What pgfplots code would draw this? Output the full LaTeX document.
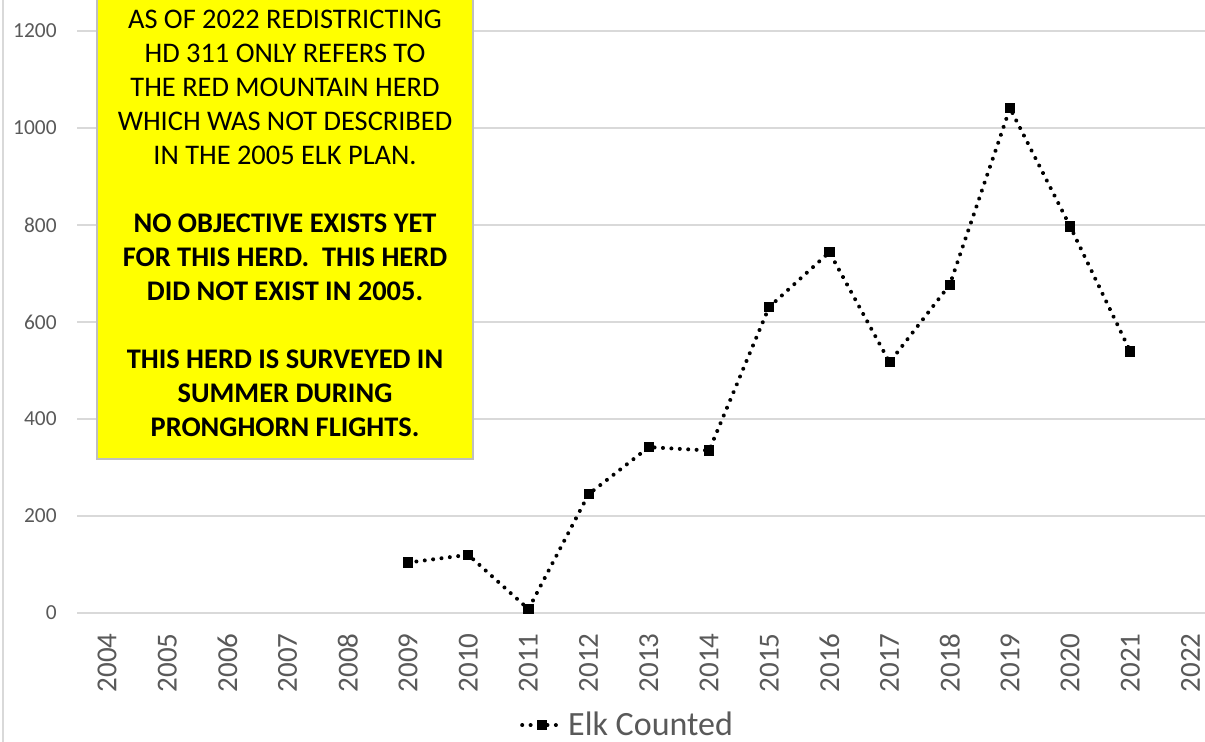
\documentclass[border=0pt]{standalone}
\usepackage{fontspec}
\setmainfont{Carlito}
\usepackage{pgfplots}
\pgfplotsset{compat=1.18}
\definecolor{gridgrey}{HTML}{D9D9D9}
\definecolor{labgrey}{HTML}{595959}
\definecolor{boxyellow}{HTML}{FFFF00}
\definecolor{boxborder}{HTML}{BFBFBF}
\begin{document}
\begin{tikzpicture}
\useasboundingbox (0,0) rectangle (602.5bp,371bp);
\fill[white] (0,0) rectangle (602.5bp,371bp);
\draw[gridgrey, line width=0.8bp] (1.5bp,0) -- (1.5bp,371bp);
\begin{axis}[
  at={(38.5bp,64.5bp)}, anchor=south west,
  scale only axis, width=564bp, height=306.5bp,
  xmin=2003.5, xmax=2022.24, ymin=0, ymax=1264,
  axis line style={draw=none},
  clip=false,
  xtick={2004,2005,...,2022},
  ytick={0,200,...,1200},
  major tick length=0pt,
  ymajorgrids, grid style={gridgrey, line width=0.8bp},
  /pgf/number format/assume math mode=true,
  /pgf/number format/1000 sep={},
  xticklabel style={rotate=90, anchor=east, inner sep=0pt, xshift=-10bp, font=\fontsize{14.5bp}{16bp}\selectfont, text=labgrey},
  yticklabel style={anchor=east, inner sep=0pt, xshift=-10bp, font=\fontsize{10.7bp}{12bp}\selectfont, text=labgrey},
  legend style={at={(0.489,-0.183)}, anchor=center, draw=none, fill=none,
    font=\fontsize{17bp}{18bp}\selectfont, text=labgrey, inner sep=0pt},
  legend cell align=left,
  legend image code/.code={
    \draw[mark repeat=2,mark phase=2,#1] plot coordinates {(0bp,0bp) (10bp,0bp) (20bp,0bp)};
  },
]
\addplot[black, line width=2bp, dash pattern=on 0.01bp off 4.2bp, line cap=round,
  mark=square*, mark size=2.3bp, mark options={solid, fill=black, line width=0.5bp}]
  coordinates {
  (2009,104) (2010,120) (2011,8) (2012,245) (2013,342) (2014,335)
  (2015,631) (2016,744) (2017,517) (2018,677) (2019,1041) (2020,797) (2021,539)
  };
\addlegendentry{Elk Counted}
\end{axis}
\fill[boxyellow, draw=boxborder, line width=0.8bp] (48.5bp,141.5bp) rectangle (236.5bp,380bp);
\node[anchor=north, inner sep=0pt, align=center,
  font=\fontsize{14.2bp}{17bp}\selectfont] at (142.5bp,366.2bp) {%
AS OF 2022 REDISTRICTING\\
HD 311 ONLY REFERS TO\\
THE RED MOUNTAIN HERD\\
WHICH WAS NOT DESCRIBED\\
IN THE 2005 ELK PLAN.\\
~\\
\textbf{NO OBJECTIVE EXISTS YET}\\
\textbf{FOR THIS HERD.\ \ THIS HERD}\\
\textbf{DID NOT EXIST IN 2005.}\\
~\\
\textbf{THIS HERD IS SURVEYED IN}\\
\textbf{SUMMER DURING}\\
\textbf{PRONGHORN FLIGHTS.}};
\end{tikzpicture}
\end{document}
